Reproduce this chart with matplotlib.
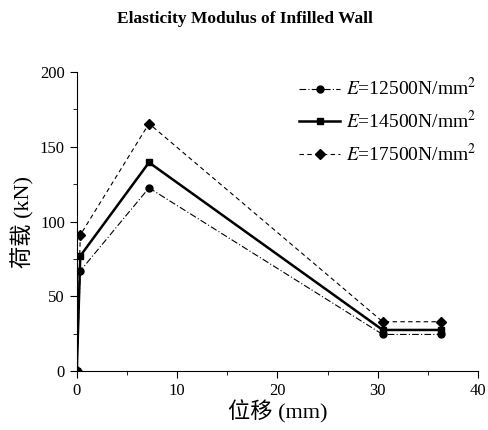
import numpy as np
import matplotlib.pyplot as plt
from matplotlib.ticker import MultipleLocator

plt.rcParams['font.family'] = ['Liberation Serif', 'Noto Sans CJK SC']
plt.rcParams['mathtext.fontset'] = 'stix'

# displacement (mm)
disp = [0, 0.35, 7.2, 30.5, 36.3]
# load (kN)
load_12500 = [0, 67, 122.5, 24.5, 24.5]
load_14500 = [0, 77, 139.5, 27.5, 27.5]
load_17500 = [0, 91, 165.5, 33, 33]
labels = ['$E$=12500N/mm$^2$', '$E$=14500N/mm$^2$', '$E$=17500N/mm$^2$']

fig = plt.figure(figsize=(4.89, 4.3), dpi=100)
ax = fig.add_axes([0.157, 0.137, 0.8205, 0.6956])

ax.plot(disp, load_12500, color='black', lw=0.8, ls=(0, (6, 2, 1, 2)),
        marker='o', ms=5, label=labels[0])
ax.plot(disp, load_14500, color='black', lw=1.8, ls='-',
        marker='s', ms=4.5, label=labels[1])
ax.plot(disp, load_17500, color='black', lw=0.8, ls=(0, (4, 3)),
        marker='D', ms=5, label=labels[2])

ax.set_xlim(0, 40)
ax.set_ylim(0, 200)
ax.xaxis.set_major_locator(MultipleLocator(10))
ax.xaxis.set_minor_locator(MultipleLocator(5))
ax.yaxis.set_major_locator(MultipleLocator(50))
ax.yaxis.set_minor_locator(MultipleLocator(25))
ax.spines['top'].set_visible(False)
ax.spines['right'].set_visible(False)
ax.tick_params(which='major', length=5, labelsize=12)
ax.tick_params(which='minor', length=3)

ax.set_xlabel('位移 (mm)', fontsize=16, labelpad=1)
ax.set_ylabel('荷载 (kN)', fontsize=16, labelpad=4)
fig.suptitle('Elasticity Modulus of Infilled Wall', fontsize=12.5,
             fontweight='bold', y=0.975)

ax.legend(loc='upper right', frameon=False, fontsize=14, handlelength=2.1,
          handletextpad=0.3, labelspacing=0.55, borderaxespad=0.1,
          bbox_to_anchor=(1.02, 1.015))

fig.savefig('out.png', dpi=100)
